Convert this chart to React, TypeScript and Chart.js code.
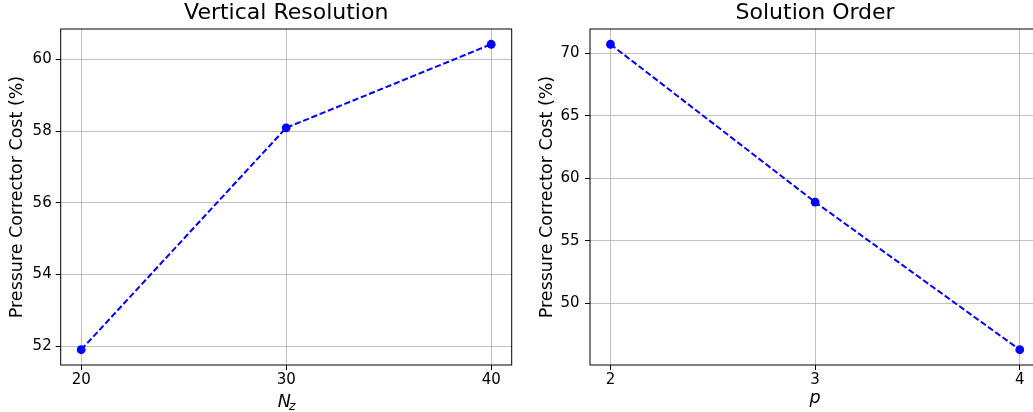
import React, { useEffect, useRef } from "react";
import { Chart, registerables } from "chart.js";

Chart.register(...registerables);

// ---- Data ----
const nzValues = [20, 30, 40];
const nzCost = [51.9, 58.09, 60.42];
const nzTicks = [20, 30, 40];
const nzYTicks = [52, 54, 56, 58, 60];

const pValues = [2, 3, 4];
const pCost = [70.72, 58.09, 46.27];
const pTicks = [2, 3, 4];
const pYTicks = [50, 55, 60, 65, 70];

const FONT = "'DejaVu Sans', sans-serif";

function margin(vals: number[]) {
  const mn = Math.min(...vals);
  const mx = Math.max(...vals);
  const m = (mx - mn) * 0.05;
  return [mn - m, mx + m];
}

const frame = {
  id: "frame",
  afterDraw(chart: any) {
    const { ctx, chartArea } = chart;
    ctx.save();
    ctx.strokeStyle = "#000";
    ctx.lineWidth = 1;
    ctx.strokeRect(chartArea.left, chartArea.top, chartArea.right - chartArea.left, chartArea.bottom - chartArea.top);
    ctx.restore();
  },
};

const subLabel = {
  id: "subLabel",
  afterDraw(chart: any, _args: any, opts: any) {
    if (!opts || !opts.main) return;
    const { ctx, chartArea } = chart;
    const cx = (chartArea.left + chartArea.right) / 2;
    ctx.save();
    ctx.fillStyle = "#000";
    ctx.textBaseline = "alphabetic";
    ctx.textAlign = "left";
    ctx.font = `italic 17.5px ${FONT}`;
    const wMain = ctx.measureText(opts.main).width;
    ctx.font = `italic 12.5px ${FONT}`;
    const wSub = ctx.measureText(opts.sub).width;
    const total = wMain + wSub - 2;
    const x0 = cx - total / 2 + 0.5;
    ctx.font = `italic 17.5px ${FONT}`;
    ctx.fillText(opts.main, x0, 407.3);
    ctx.font = `italic 12.5px ${FONT}`;
    ctx.fillText(opts.sub, x0 + wMain - 2, 409.8);
    ctx.restore();
  },
};

function makeConfig(
  xs: number[],
  ys: number[],
  xTicks: number[],
  yTicks: number[],
  title: string,
  xTitle: string | null,
  yAxisWidth: number,
  yTitlePad: number,
  yTickPad: number,
  padRight: number,
  sub: any
): any {
  const [xmin, xmax] = margin(xs);
  const [ymin, ymax] = margin(ys);
  return {
    type: "line",
    data: {
      datasets: [
        {
          data: xs.map((x, i) => ({ x, y: ys[i] })),
          borderColor: "#0000ff",
          backgroundColor: "#0000ff",
          borderWidth: 2,
          borderDash: [6.2, 2.7],
          pointRadius: 4.4,
          pointBorderWidth: 0,
          pointBackgroundColor: "#0000ff",
          fill: false,
          tension: 0,
        },
      ],
    },
    options: {
      animation: false,
      responsive: false,
      devicePixelRatio: 1,
      layout: { padding: { left: 0, right: padRight, top: 0, bottom: 0 } },
      plugins: {
        legend: { display: false },
        tooltip: { enabled: false },
        title: {
          display: true,
          fullSize: false,
          text: title,
          color: "#000",
          font: { family: FONT, size: 22, weight: "normal", lineHeight: 1.2 },
          padding: { top: 0.3, bottom: 2.3 },
        },
        subLabel: sub,
      },
      scales: {
        x: {
          type: "linear",
          min: xmin,
          max: xmax,
          afterBuildTicks: (s: any) => {
            s.ticks = xTicks.map((v) => ({ value: v }));
          },
          afterFit: (s: any) => {
            s.height = 47;
          },
          ticks: {
            color: "#000",
            font: { family: FONT, size: 15, lineHeight: 1.2 },
            padding: 1,
            maxRotation: 0,
            callback: (v: any) => String(v),
          },
          grid: {
            color: "#b0b0b0",
            lineWidth: 0.8,
            tickLength: 5,
            tickColor: "#000",
            tickWidth: 1,
            drawTicks: true,
          },
          border: { display: false },
          title: {
            display: !!xTitle,
            text: xTitle || "",
            color: "#000",
            font: { family: FONT, size: 17.5, style: "italic", lineHeight: 1.2 },
            padding: { top: 0, bottom: 3.3 },
          },
        },
        y: {
          type: "linear",
          min: ymin,
          max: ymax,
          afterBuildTicks: (s: any) => {
            s.ticks = yTicks.map((v) => ({ value: v }));
          },
          afterFit: (s: any) => {
            s.width = yAxisWidth;
          },
          ticks: {
            color: "#000",
            font: { family: FONT, size: 15, lineHeight: 1.2 },
            padding: yTickPad,
            callback: (v: any) => String(v),
          },
          grid: {
            color: "#b0b0b0",
            lineWidth: 0.8,
            tickLength: 5,
            tickColor: "#000",
            tickWidth: 1,
            drawTicks: true,
          },
          border: { display: false },
          title: {
            display: true,
            text: "Pressure Corrector Cost (%)",
            color: "#000",
            font: { family: FONT, size: 17.5, lineHeight: 1.2 },
            padding: { top: yTitlePad, bottom: 0 },
          },
        },
      },
    },
    plugins: [frame, subLabel],
  };
}

export default function App() {
  const leftRef = useRef<HTMLCanvasElement>(null);
  const rightRef = useRef<HTMLCanvasElement>(null);

  useEffect(() => {
    const left = new Chart(
      leftRef.current as HTMLCanvasElement,
      makeConfig(nzValues, nzCost, nzTicks, nzYTicks, "Vertical Resolution", null, 60.7, 7, 4, 8.3, {
        main: "N",
        sub: "z",
      })
    );
    const right = new Chart(
      rightRef.current as HTMLCanvasElement,
      makeConfig(pValues, pCost, pTicks, pYTicks, "Solution Order", "p", 70, 17, 5.5, 9.8, {})
    );
    return () => {
      left.destroy();
      right.destroy();
    };
  }, []);

  return (
    <div
      style={{
        position: "absolute",
        left: 0,
        top: 0,
        width: 1033,
        height: 412,
        overflow: "hidden",
        background: "#fff",
      }}
    >
      <canvas
        ref={leftRef}
        width={520}
        height={412}
        style={{ position: "absolute", left: 0, top: 0, width: 520, height: 412 }}
      />
      <canvas
        ref={rightRef}
        width={530}
        height={412}
        style={{ position: "absolute", left: 520, top: 0, width: 530, height: 412 }}
      />
    </div>
  );
}
